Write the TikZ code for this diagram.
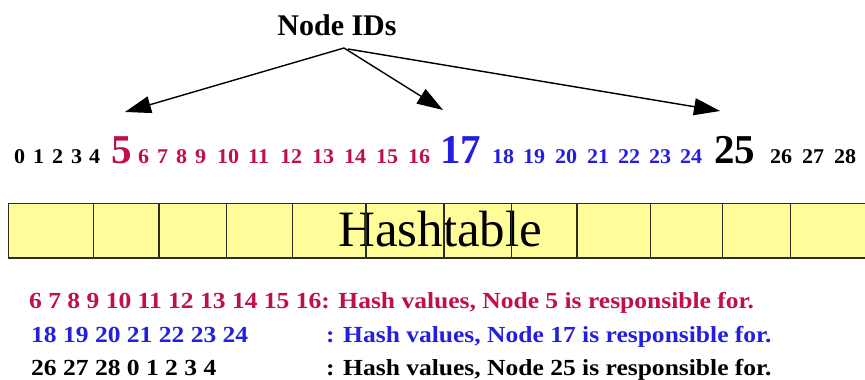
\documentclass[tikz,border=0pt]{standalone}
\usepackage{fontspec}
\setmainfont{Liberation Serif}
\newfontfamily\widenum[FakeStretch=1.05]{Liberation Serif}
\newfontfamily\widetext[FakeStretch=1.11]{Liberation Serif}
\usetikzlibrary{arrows.meta}
\definecolor{crimson}{RGB}{192,16,72}
\definecolor{ringblue}{RGB}{36,30,222}
\definecolor{cellfill}{RGB}{255,253,153}
\definecolor{cellline}{RGB}{45,45,40}
\tikzset{
  idnum/.style={anchor=base west, inner sep=0pt, font=\widenum\bfseries\fontsize{21}{23}\selectfont},
  bignum/.style={anchor=base west, inner sep=0pt, font=\bfseries\fontsize{41}{44}\selectfont},
  legend/.style={anchor=base west, inner sep=0pt, font=\widetext\bfseries\fontsize{23}{25}\selectfont},
  pointer/.style={line width=1.4pt, -{Triangle[length=26pt,width=17pt]}},
  divider/.style={line width=1.3pt, draw=cellline}
}
\begin{document}
\begin{tikzpicture}[x=1pt,y=-1pt]
\clip (0,0) rectangle (865,380);
\useasboundingbox (0,0) rectangle (865,380);

% title and the three pointers to the node IDs
\node[anchor=base, inner sep=0pt, font=\bfseries\fontsize{30}{32}\selectfont] (title) at (337,35) {Node IDs};
\coordinate (hub) at (344,48);
\coordinate (hubr) at (348,49);
\coordinate (t5) at (125,112);
\coordinate (t17) at (443,110);
\coordinate (t25) at (720,111);
\draw[pointer] (hub) -- (t5);
\draw[pointer] (hub) -- (t17);
\draw[pointer] (hubr) -- (t25);

% identifier ring 0..28
\foreach \n/\x in {0/14,1/33,2/52,3/71,4/89,26/770,27/802,28/834}
  \node[idnum] (id\n) at (\x,163) {\n};
\foreach \n/\x in {6/138,7/157,8/176,9/195,10/217,11/248,12/280,13/312,14/344,15/376,16/408}
  \node[idnum, text=crimson] (id\n) at (\x,163) {\n};
\foreach \n/\x in {18/492,19/523,20/555,21/587,22/618,23/649,24/680}
  \node[idnum, text=ringblue] (id\n) at (\x,163) {\n};
\node[bignum, text=crimson] (id5) at (111,163) {5};
\node[bignum, text=ringblue] (id17) at (440,163) {17};
\node[bignum] (id25) at (714,163) {25};

% hashtable strip
\fill[cellfill] (8.3,203.3) rectangle (866,257.7);
\node[anchor=base west, inner sep=0pt, font=\fontsize{51}{53}\selectfont] (table) at (338,246.7) {Hashtable};
\foreach \x in {8.3,93.3,159,226.3,292.3,366,444,511.7,577,650.7,722.3,790.3}
  \draw[divider] (\x,203.3) -- (\x,257.7);
\draw[line width=1.6pt, draw=cellline] (8.3,203.3) -- (866,203.3);
\draw[line width=1.6pt, draw=cellline] (8.3,257.7) -- (866,257.7);

% responsibility legend
\node[legend, text=crimson] (l5) at (29,308.3) {6 7 8 9 10 11 12 13 14 15 16: Hash values, Node 5 is responsible for.};
\node[legend, text=ringblue] (l17) at (31,342.7) {18 19 20 21 22 23 24};
\node[legend, text=ringblue] (r17) at (326,342.7) {: Hash values, Node 17 is responsible for.};
\node[legend] (l25) at (31,375) {26 27 28 0 1 2 3 4};
\node[legend] (r25) at (326,375) {: Hash values, Node 25 is responsible for.};
\end{tikzpicture}
\end{document}
